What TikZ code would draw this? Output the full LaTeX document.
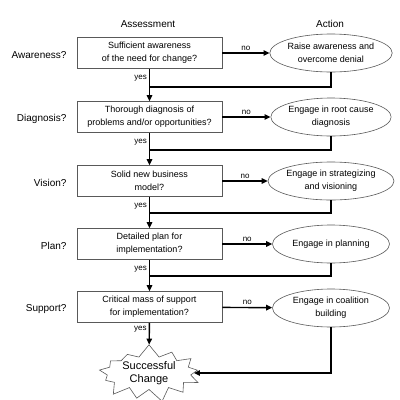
\documentclass[tikz,border=0pt]{standalone}
\usepackage{fontspec}
\setmainfont{Liberation Sans}
\usetikzlibrary{shapes.geometric, shapes.symbols, arrows.meta}

\begin{document}
\begin{tikzpicture}[x=1pt, y=-1pt,
	check/.style={draw=black!65, line width=0.6pt, minimum width=145pt, minimum height=31pt, inner sep=1pt, align=center, font=\fontsize{9}{13}\selectfont},
	act/.style={ellipse, draw=black!65, line width=0.6pt, minimum width=117pt, minimum height=38pt, inner sep=0pt, align=center, font=\fontsize{9}{13}\selectfont},
	stage/.style={anchor=east, font=\fontsize{10}{12}\selectfont},
	head/.style={font=\fontsize{10}{12}\selectfont},
	tag/.style={font=\fontsize{8}{10}\selectfont, inner sep=2pt},
	flow/.style={line width=1.4pt, -{Triangle[length=6pt, width=5.5pt]}},
	back/.style={line width=1.4pt}
]
			\useasboundingbox (0,0) rectangle (400,400);
			\node[head] (assess) at (148,24) {Assessment};
			\node[head] (action) at (330,24) {Action};

			\node[check] (aware) at (149.5,53) {Sufficient awareness\\of the need for change?};
			\node[check] (diag) at (149.5,117) {Thorough diagnosis of\\problems and/or opportunities?};
			\node[check] (vision) at (149.5,181) {Solid new business\\model?};
			\node[check] (plan) at (149.5,244) {Detailed plan for\\implementation?};
			\node[check] (support) at (149.5,307) {Critical mass of support\\for implementation?};

			\node[act] (awareA) at (331,53) {Raise awareness and\\overcome denial};
			\node[act] (diagA) at (331,117) {Engage in root cause\\diagnosis};
			\node[act] (visionA) at (331,181) {Engage in strategizing\\and visioning};
			\node[act] (planA) at (331,244) {Engage in planning};
			\node[act] (supportA) at (331,308) {Engage in coalition\\building};

			\node[stage] (awareQ) at (70,55) {Awareness?};
			\node[stage] (diagQ) at (70,119) {Diagnosis?};
			\node[stage] (visionQ) at (70,183) {Vision?};
			\node[stage] (planQ) at (70,246) {Plan?};
			\node[stage] (supportQ) at (70,309) {Support?};

			\node[starburst, draw=black!65, line width=0.6pt, starburst points=13, starburst point height=13pt,
				random starburst=7, minimum width=110pt, minimum height=48pt, inner sep=0pt,
				align=center, font=\fontsize{11}{13}\selectfont] (change) at (149,373) {Successful\\Change};

			\coordinate (join1) at (149.5,87);
			\coordinate (join2) at (149.5,150);
			\coordinate (join3) at (149.5,213);
			\coordinate (join4) at (149.5,276);

			\draw[flow] (aware) -- (awareA) node[tag, midway, above] {no};
			\draw[flow] (diag) -- (diagA) node[tag, midway, above] {no};
			\draw[flow] (vision) -- (visionA) node[tag, midway, above] {no};
			\draw[flow] (plan) -- (planA) node[tag, midway, above] {no};
			\draw[flow] (support) -- (supportA) node[tag, midway, above] {no};

			\draw[flow] (aware) -- (diag) node[tag, pos=0.3, left] {yes};
			\draw[flow] (diag) -- (vision) node[tag, pos=0.3, left] {yes};
			\draw[flow] (vision) -- (plan) node[tag, pos=0.3, left] {yes};
			\draw[flow] (plan) -- (support) node[tag, pos=0.3, left] {yes};
			\draw[flow] (support) -- (change) node[tag, pos=0.3, left] {yes};

			\draw[back] (awareA) |- (join1);
			\draw[back] (diagA) |- (join2);
			\draw[back] (visionA) |- (join3);
			\draw[back] (planA) |- (join4);
			\draw[flow] (supportA) |- (change);
\end{tikzpicture}
\end{document}
